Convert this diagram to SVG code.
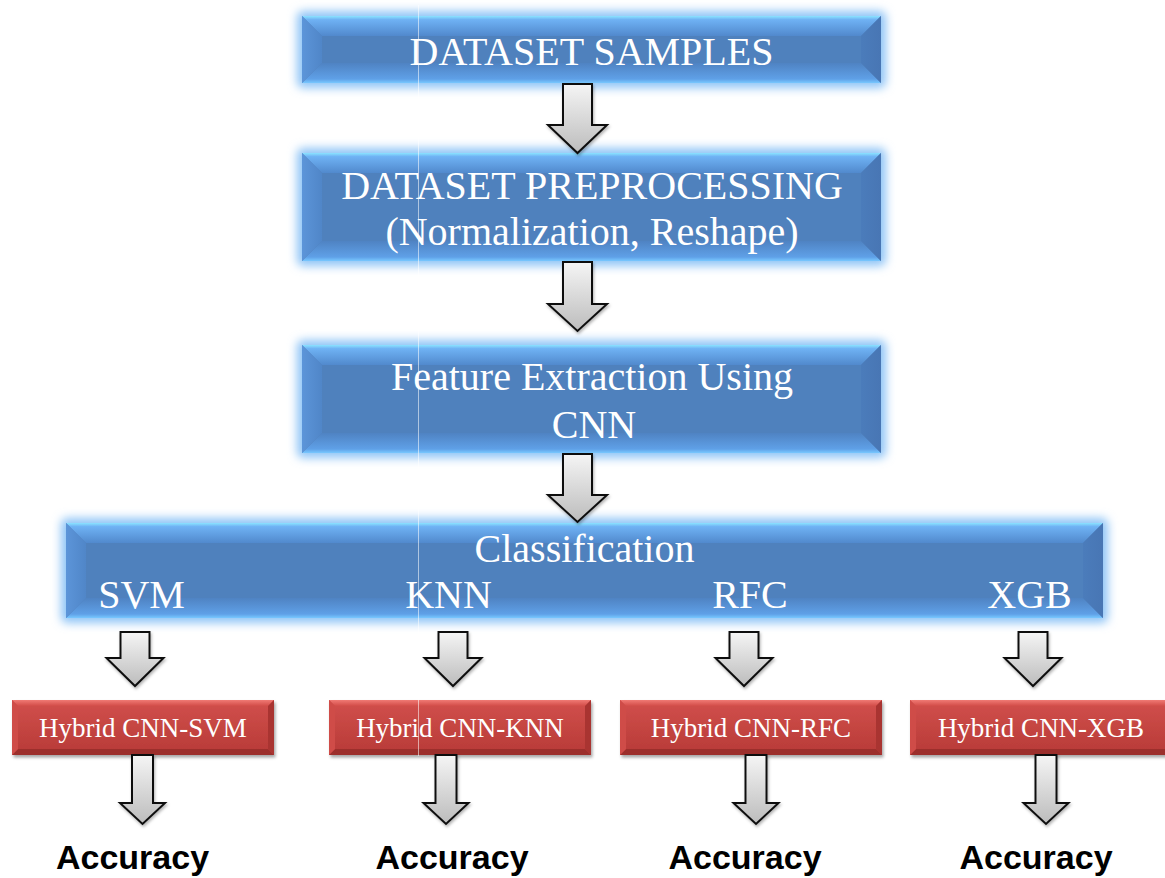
<svg xmlns="http://www.w3.org/2000/svg" width="1165" height="878" viewBox="0 0 1165 878">
  <defs>
    <style>
      .glow { fill: #8fc4f6; filter: url(#soft); }
      .bface { fill: #4f81bd; }
      .btop { fill: url(#gBlueTop); }
      .bbot { fill: url(#gBlueBot); }
      .bleft { fill: url(#gBlueLeft); }
      .bright { fill: url(#gBlueRight); }
      .rface { fill: url(#gRedFace); filter: url(#shadow); }
      .rtop { fill: url(#gRedTop); }
      .rbot { fill: #9c2f2c; }
      .rleft { fill: #cf4c48; }
      .rright { fill: #a93431; }
      .big { font-family: "Liberation Serif", "Times New Roman", serif; font-size: 40px; fill: #ffffff; text-anchor: middle; }
      .small { font-family: "Liberation Serif", "Times New Roman", serif; font-size: 27px; fill: #ffffff; text-anchor: middle; }
      .acc { font-family: "Liberation Sans", Arial, sans-serif; font-weight: bold; font-size: 34px; fill: #000000; text-anchor: middle; }
      .arrow { fill: url(#gArrow); stroke: #111111; stroke-width: 2; stroke-linejoin: miter; filter: url(#ashadow); }
      .seam { stroke: #ffffff; stroke-width: 1; stroke-opacity: 0.55; }
    </style>
    <filter id="soft" x="-10%" y="-40%" width="120%" height="180%">
      <feGaussianBlur stdDeviation="5"/>
    </filter>
    <filter id="shadow" x="-5%" y="-20%" width="110%" height="150%">
      <feDropShadow dx="1.5" dy="2.5" stdDeviation="1.8" flood-color="#000000" flood-opacity="0.35"/>
    </filter>
    <filter id="ashadow" x="-30%" y="-10%" width="160%" height="130%">
      <feDropShadow dx="1" dy="2" stdDeviation="1.5" flood-color="#000000" flood-opacity="0.3"/>
    </filter>
    <linearGradient id="gBlueTop" x1="0" y1="0" x2="0" y2="1">
      <stop offset="0" stop-color="#8be3ff"/>
      <stop offset="0.18" stop-color="#6fb2f4"/>
      <stop offset="1" stop-color="#5189cd"/>
    </linearGradient>
    <linearGradient id="gBlueBot" x1="0" y1="0" x2="0" y2="1">
      <stop offset="0" stop-color="#4f83c3"/>
      <stop offset="0.8" stop-color="#5fa0e7"/>
      <stop offset="1" stop-color="#78c8ff"/>
    </linearGradient>
    <linearGradient id="gBlueLeft" x1="0" y1="0" x2="1" y2="0">
      <stop offset="0" stop-color="#5c95d9"/>
      <stop offset="1" stop-color="#5086c8"/>
    </linearGradient>
    <linearGradient id="gBlueRight" x1="0" y1="0" x2="1" y2="0">
      <stop offset="0" stop-color="#4b7cbb"/>
      <stop offset="1" stop-color="#4876b4"/>
    </linearGradient>
    <linearGradient id="gRedFace" x1="0" y1="0" x2="0" y2="1">
      <stop offset="0" stop-color="#d2504c"/>
      <stop offset="1" stop-color="#b73a37"/>
    </linearGradient>
    <linearGradient id="gRedTop" x1="0" y1="0" x2="0" y2="1">
      <stop offset="0" stop-color="#f07a74"/>
      <stop offset="1" stop-color="#d24c48"/>
    </linearGradient>
    <linearGradient id="gArrow" x1="0" y1="0" x2="0" y2="1">
      <stop offset="0" stop-color="#f5f5f5"/>
      <stop offset="1" stop-color="#bcbcbc"/>
    </linearGradient>
  </defs>

  <rect width="1165" height="878" fill="#ffffff"/>

  <!-- Blue process boxes -->
  <g id="node-dataset-samples">
    <rect class="glow" x="297" y="11" width="589" height="77" rx="6"/>
    <rect class="bface" x="302" y="16" width="579" height="67"/>
    <polygon class="btop" points="302,16 881,16 861,36 322,36"/>
    <polygon class="bbot" points="302,83 881,83 861,63 322,63"/>
    <polygon class="bleft" points="302,16 322,36 322,63 302,83"/>
    <polygon class="bright" points="881,16 861,36 861,63 881,83"/>
    <text class="big" x="591.5" y="65">DATASET SAMPLES</text>
  </g>

  <g id="node-preprocessing">
    <rect class="glow" x="297" y="148" width="589" height="118" rx="6"/>
    <rect class="bface" x="302" y="153" width="579" height="108"/>
    <polygon class="btop" points="302,153 881,153 861,173 322,173"/>
    <polygon class="bbot" points="302,261 881,261 861,241 322,241"/>
    <polygon class="bleft" points="302,153 322,173 322,241 302,261"/>
    <polygon class="bright" points="881,153 861,173 861,241 881,261"/>
    <text class="big" x="592" y="199">DATASET PREPROCESSING</text>
    <text class="big" x="592" y="245">(Normalization, Reshape)</text>
  </g>

  <g id="node-feature-extraction">
    <rect class="glow" x="297" y="340" width="589" height="118" rx="6"/>
    <rect class="bface" x="302" y="345" width="579" height="108"/>
    <polygon class="btop" points="302,345 881,345 861,365 322,365"/>
    <polygon class="bbot" points="302,453 881,453 861,433 322,433"/>
    <polygon class="bleft" points="302,345 322,365 322,433 302,453"/>
    <polygon class="bright" points="881,345 861,365 861,433 881,453"/>
    <text class="big" x="592" y="390">Feature Extraction Using</text>
    <text class="big" x="594" y="438">CNN</text>
  </g>

  <g id="node-classification">
    <rect class="glow" x="61" y="518" width="1047" height="105" rx="6"/>
    <rect class="bface" x="66" y="523" width="1037" height="95"/>
    <polygon class="btop" points="66,523 1103,523 1083,543 86,543"/>
    <polygon class="bbot" points="66,618 1103,618 1083,598 86,598"/>
    <polygon class="bleft" points="66,523 86,543 86,598 66,618"/>
    <polygon class="bright" points="1103,523 1083,543 1083,598 1103,618"/>
    <text class="big" x="584.5" y="562">Classification</text>
    <text class="big" x="141.5" y="608">SVM</text>
    <text class="big" x="448.5" y="608">KNN</text>
    <text class="big" x="750" y="608">RFC</text>
    <text class="big" x="1029.5" y="608">XGB</text>
  </g>

  <!-- Red hybrid model boxes -->
  <g id="node-hybrid-svm">
    <rect class="rface" x="12" y="700" width="262" height="55"/>
    <polygon class="rtop" points="12,700 274,700 268,706 18,706"/>
    <polygon class="rbot" points="12,755 274,755 268,749 18,749"/>
    <polygon class="rleft" points="12,700 18,706 18,749 12,755"/>
    <polygon class="rright" points="274,700 268,706 268,749 274,755"/>
    <text class="small" x="143" y="737">Hybrid CNN-SVM</text>
  </g>

  <g id="node-hybrid-knn">
    <rect class="rface" x="329" y="700" width="262" height="55"/>
    <polygon class="rtop" points="329,700 591,700 585,706 335,706"/>
    <polygon class="rbot" points="329,755 591,755 585,749 335,749"/>
    <polygon class="rleft" points="329,700 335,706 335,749 329,755"/>
    <polygon class="rright" points="591,700 585,706 585,749 591,755"/>
    <text class="small" x="460" y="737">Hybrid CNN-KNN</text>
  </g>

  <g id="node-hybrid-rfc">
    <rect class="rface" x="620" y="700" width="262" height="55"/>
    <polygon class="rtop" points="620,700 882,700 876,706 626,706"/>
    <polygon class="rbot" points="620,755 882,755 876,749 626,749"/>
    <polygon class="rleft" points="620,700 626,706 626,749 620,755"/>
    <polygon class="rright" points="882,700 876,706 876,749 882,755"/>
    <text class="small" x="751" y="737">Hybrid CNN-RFC</text>
  </g>

  <g id="node-hybrid-xgb">
    <rect class="rface" x="910" y="700" width="262" height="55"/>
    <polygon class="rtop" points="910,700 1172,700 1166,706 916,706"/>
    <polygon class="rbot" points="910,755 1172,755 1166,749 916,749"/>
    <polygon class="rleft" points="910,700 916,706 916,749 910,755"/>
    <polygon class="rright" points="1172,700 1166,706 1166,749 1172,755"/>
    <text class="small" x="1041" y="737">Hybrid CNN-XGB</text>
  </g>

  <!-- Faint vertical seam across the coloured blocks -->
  <line class="seam" x1="418.5" y1="5" x2="418.5" y2="756"/>

  <!-- Block arrows -->
  <g id="connectors">
    <path class="arrow" d="M563,84 H592 V125 H607 L577.5,153 L548,125 H563 Z"/>
    <path class="arrow" d="M563,262 H592 V304 H607 L577.5,331 L548,304 H563 Z"/>
    <path class="arrow" d="M563,454 H592 V495 H607 L577.5,522 L548,495 H563 Z"/>

    <path class="arrow" d="M120.5,632 H149.5 V658 H163.5 L135,686 L106.5,658 H120.5 Z"/>
    <path class="arrow" d="M438.5,632 H467.5 V658 H481.5 L453,686 L424.5,658 H438.5 Z"/>
    <path class="arrow" d="M729.5,632 H758.5 V658 H772.5 L744,686 L715.5,658 H729.5 Z"/>
    <path class="arrow" d="M1018.5,632 H1047.5 V658 H1061.5 L1033,686 L1004.5,658 H1018.5 Z"/>

    <path class="arrow" d="M132,755 H153 V803 H165 L142.5,824 L120,803 H132 Z"/>
    <path class="arrow" d="M435.5,755 H456.5 V803 H468.5 L446,824 L423.5,803 H435.5 Z"/>
    <path class="arrow" d="M745.5,755 H766.5 V803 H778.5 L756,824 L733.5,803 H745.5 Z"/>
    <path class="arrow" d="M1035.5,755 H1056.5 V803 H1068.5 L1046,824 L1023.5,803 H1035.5 Z"/>
  </g>

  <!-- Result labels -->
  <g id="results">
    <text id="accuracy-svm" class="acc" x="132.5" y="869">Accuracy</text>
    <text id="accuracy-knn" class="acc" x="452" y="869">Accuracy</text>
    <text id="accuracy-rfc" class="acc" x="745" y="869">Accuracy</text>
    <text id="accuracy-xgb" class="acc" x="1036" y="869">Accuracy</text>
  </g>
</svg>
